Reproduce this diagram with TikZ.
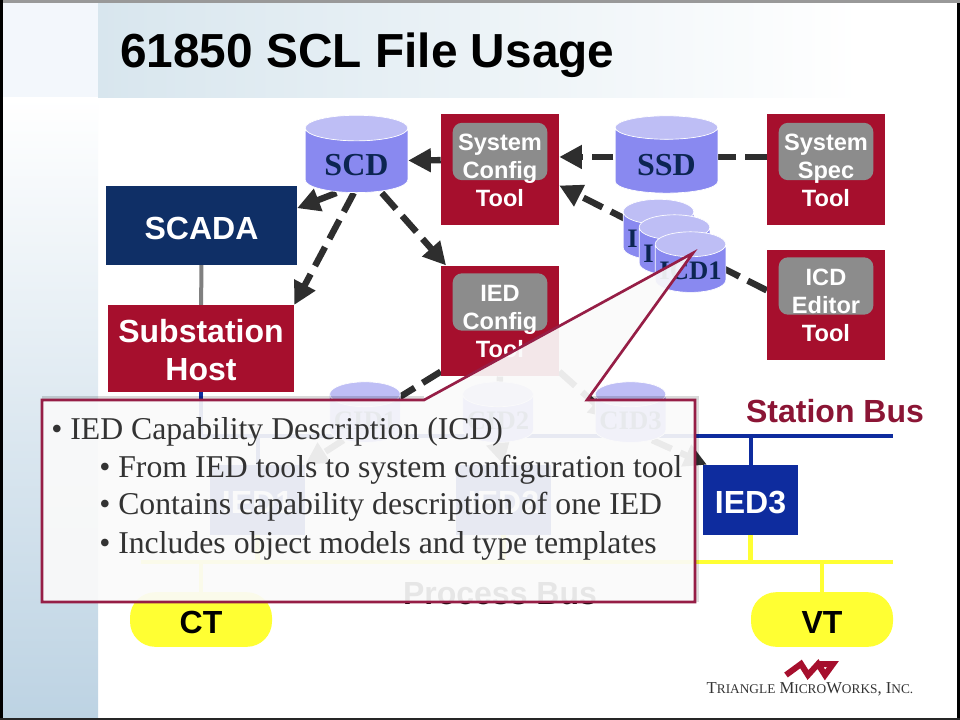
\documentclass[tikz,border=0pt]{standalone}
\usepackage{fontspec}
\setmainfont{Liberation Serif}
\setsansfont{Liberation Sans}
\usepackage{xcolor}
\usetikzlibrary{arrows.meta, shapes.geometric, backgrounds}

\definecolor{toolred}{RGB}{166,15,45}
\definecolor{toolgray}{RGB}{140,140,140}
\definecolor{scadablue}{RGB}{15,47,102}
\definecolor{iedblue}{RGB}{14,44,158}
\definecolor{busyellow}{RGB}{255,255,51}
\definecolor{cylbody}{RGB}{137,137,240}
\definecolor{cyltop}{RGB}{190,190,245}
\definecolor{striplight}{RGB}{243,247,252}
\definecolor{stripblue}{RGB}{189,211,227}
\definecolor{bandblue}{RGB}{216,230,238}
\definecolor{stationred}{RGB}{139,21,53}
\definecolor{calloutred}{RGB}{150,30,70}

\tikzset{
	toolbox/.style={fill=toolred, minimum width=88.5pt, minimum height=83pt},
	toolcap/.style={fill=toolgray, rounded corners=7pt, minimum width=71pt, minimum height=43pt},
	tooltext/.style={font=\sffamily\bfseries\fontsize{17.7}{21}\selectfont, text=white, align=center},
	bigtext/.style={font=\sffamily\bfseries\fontsize{24}{28}\selectfont},
	boxtext/.style={bigtext, text height=20.5pt},
	datafile/.style={cylinder, shape border rotate=90, shape aspect=0.4, cylinder uses custom fill,
		cylinder body fill=cylbody, cylinder end fill=cyltop, draw=white, line width=0.5pt,
		inner sep=0pt, text=black!20!scadablue, font=\bfseries\fontsize{24}{28}\selectfont},
	bigfile/.style={datafile, minimum width=77pt, minimum height=58pt, text height=22pt},
	smallfile/.style={datafile, minimum width=53pt, minimum height=41pt, text height=17pt, font=\bfseries\fontsize{20}{24}\selectfont},
	cfgflow/.style={draw=black!82, line width=4.8pt, dash pattern=on 16pt off 7pt,
		-{Triangle[length=17pt,width=17pt]}},
	callouttext/.style={anchor=base west, inner sep=0pt, text=black!80, font=\fontsize{23.8}{28}\selectfont},
	smallcaps/.style={anchor=base, inner sep=0pt, text=black!80, font=\fontsize{12.5}{14}\selectfont}
}

\begin{document}
\begin{tikzpicture}[x=0.75pt, y=-0.75pt]
	\useasboundingbox (0,0) rectangle (960,720);

	\node[font=\sffamily\bfseries\fontsize{35.85}{40}\selectfont, inner sep=0pt, anchor=base west] (title) at (120,68) {61850 SCL File Usage};

	% Boxes
	\node[fill=scadablue, minimum width=143pt, minimum height=59pt, boxtext, text=white] (scada) at (201.5,225.5) {SCADA};
	\node[fill=toolred, minimum width=139.5pt, minimum height=65pt] (host) at (201,348.5) {};
	\node[bigtext, text=white, align=center] (hosttext) at (201,350) {Substation\\Host};

	\node[toolbox] (systool) at (500,169.5) {};
	\node[toolbox] (spectool) at (826,169.5) {};
	\node[toolbox] (icdtool) at (826,305) {};
	\node[toolbox] (iedtool) at (500,321) {};

	\node[fill=iedblue, minimum width=71pt, minimum height=52.5pt, boxtext, text=white] (ied1) at (257.5,500) {IED1};
	\node[fill=iedblue, minimum width=71pt, minimum height=52.5pt, boxtext, text=white] (ied2) at (503.5,500) {IED2};
	\node[fill=iedblue, minimum width=71pt, minimum height=52.5pt, boxtext, text=white] (ied3) at (750.5,500) {IED3};

	\node[fill=busyellow, rounded corners=19pt, minimum width=106.5pt, minimum height=41pt, boxtext] (ct) at (201,619.5) {CT};
	\node[fill=busyellow, rounded corners=19pt, minimum width=106.5pt, minimum height=41pt, boxtext] (vt) at (822,619.5) {VT};

	\node[bigtext, text=stationred, inner sep=0pt] (stationbus) at (835,411) {Station Bus};
	\node[bigtext, inner sep=0pt] (processbus) at (500,594) {Process Bus};

	% Configuration files
	\node[bigfile] (scd) at (356.5,160.5) {SCD};
	\node[bigfile] (ssd) at (666.5,160.5) {SSD};
	\node[smallfile] (icd3) at (658.5,236) {ICD3};
	\node[smallfile] (icd2) at (674.5,251.5) {ICD2};
	\node[smallfile] (icd1) at (690.5,268.5) {ICD1};
	\node[smallfile] (cid1) at (365,418.5) {CID1};
	\node[smallfile] (cid2) at (498,418.5) {CID2};
	\node[smallfile] (cid3) at (630.5,418.5) {CID3};

	% Tool captions
	\node[toolcap] (syscap) at (500,151.5) {};
	\node[toolcap] (speccap) at (826,151.5) {};
	\node[toolcap] (icdcap) at (826,286) {};
	\node[toolcap] (iedcap) at (500,302) {};
	\node[tooltext] (systext) at (500,170.5) {System\\Config\\Tool};
	\node[tooltext] (spectext) at (826,170.5) {System\\Spec\\Tool};
	\node[tooltext] (icdtext) at (826,305) {ICD\\Editor\\Tool};
	\node[tooltext] (iedtext) at (500,321) {IED\\Config\\Tool};

	\begin{pgfonlayer}{background}
		% Slide background
		\fill[white] (0,0) rectangle (960,720);
		\fill[striplight] (3,3) rectangle (98,98);
		\shade[top color=white, bottom color=stripblue] (3,98) rectangle (98,718);
		\shade[left color=bandblue, right color=white] (98,3) rectangle (860,98);
		\fill[black!40] (0,0) rectangle (960,3);
		\fill[black] (0,0) rectangle (3,720);
		\fill[black] (957,3) rectangle (960,720);
		\fill[black!85] (0,718) rectangle (960,720);

		% Buses
		\coordinate (stationl) at (201,436);
		\coordinate (stationr) at (893,436);
		\coordinate (processl) at (141,562);
		\coordinate (processr) at (893,562);
		\draw[iedblue, line width=3pt] (stationl) -- (stationr);
		\draw[busyellow, line width=3.5pt] (processl) -- (processr);
		\draw[black!50, line width=3pt] (scada) -- (host);
		\draw[iedblue, line width=3pt] (host) -- (stationl);
		\draw[iedblue, line width=3pt] (ied1) -- (ied1 |- stationl);
		\draw[iedblue, line width=3pt] (ied2) -- (ied2 |- stationl);
		\draw[iedblue, line width=3pt] (ied3.north) -- (ied3 |- stationl);
		\draw[busyellow, line width=3.5pt] (ied1.south) -- (ied1 |- processl);
		\draw[busyellow, line width=3.5pt] (ied2.south) -- (ied2 |- processl);
		\draw[busyellow, line width=3.5pt] (ied3.south) -- (ied3 |- processl);
		\draw[busyellow, line width=3.5pt] (ct.north) -- (ct |- processl);
		\draw[busyellow, line width=3.5pt] (vt.north) -- (vt |- processl);

		% Dashed flows
		\draw[cfgflow] ([yshift=11pt]icdtool.west) -- ([yshift=-12pt]systool.east);
		\draw[cfgflow] ([yshift=7pt]systool.west) -- (scd.east);
		\draw[cfgflow] ([yshift=9.4pt]spectool.west) -- ([yshift=9.4pt]systool.east);
		\draw[cfgflow] ([xshift=-15pt]scd.south) -- ([yshift=13pt]scada.east);
		\draw[cfgflow] ([xshift=-2pt]scd.south) -- (host.north east);
		\draw[cfgflow] ([xshift=19pt]scd.south) -- ([xshift=4pt]iedtool.north west);
		\draw[cfgflow] ([yshift=-38pt]iedtool.west) -- (cid1.center);
		\draw[cfgflow] (iedtool.south) -- (cid2.center);
		\draw[cfgflow] ([yshift=-38pt]iedtool.east) -- ([xshift=-14pt]cid3.center);
		\draw[cfgflow] (cid1.south west) -- (ied1.north east);
		\draw[cfgflow] (cid2.south) -- (ied2.north);
		\draw[cfgflow] (cid3.south east) -- ([xshift=3pt]ied3.north west);
	\end{pgfonlayer}

	% Callout
	\fill[black, opacity=0.15] (42,396) rectangle (424,400);
	\fill[black, opacity=0.15] (587,396) rectangle (699,400);
	\fill[black, opacity=0.12] (695,400) rectangle (699,602);
	\draw[draw=calloutred, line width=2pt, fill=black!2, fill opacity=0.92]
		(42,400) -- (424,400) -- (693,253) -- (587,400) -- (695,400) -- (695,602) -- (42,602) -- cycle;

	\node[callouttext] (line1) at (51,439) {• IED Capability Description (ICD)};
	\node[callouttext] (line2) at (99,477) {• From IED tools to system configuration tool};
	\node[callouttext] (line3) at (99,514) {• Contains capability description of one IED};
	\node[callouttext] (line4) at (99,553) {• Includes object models and type templates};

	% Logo
	\draw[toolred, line width=4.5pt, miter limit=8] (786,675) -- (801,664) -- (808,675) -- (818,664) -- (825,675) -- (833,664) -- (820,664);
	\node[smallcaps] (logo) at (810,693) {T{\fontsize{10}{12}\selectfont RIANGLE} M{\fontsize{10}{12}\selectfont ICRO}W{\fontsize{10}{12}\selectfont ORKS}, I{\fontsize{10}{12}\selectfont NC.}};
\end{tikzpicture}
\end{document}
